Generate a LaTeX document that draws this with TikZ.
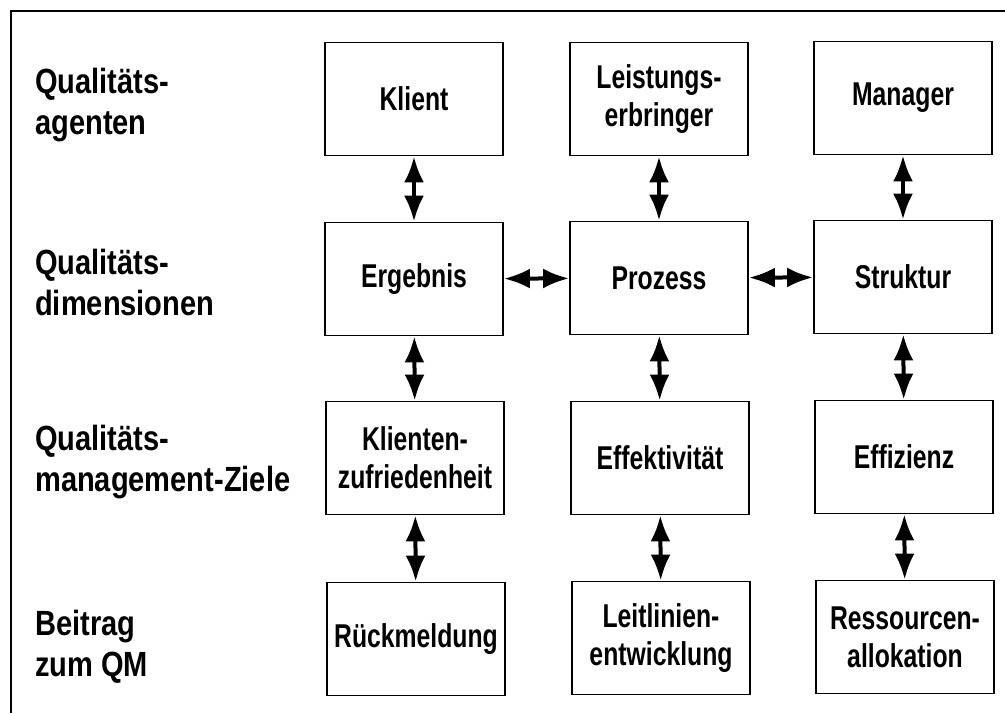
\documentclass[tikz,border=0pt]{standalone}
\usepackage{fontspec}
\usetikzlibrary{arrows.meta}
\setmainfont{Liberation Sans}
% condensed bold faces for the row labels and the box texts
\newfontfamily\rowfont{Liberation Sans}[FakeStretch=0.83]
\newfontfamily\boxfont{Liberation Sans}[FakeStretch=0.75]

\tikzset{
  qbox/.style={draw, line width=1.8pt, minimum width=178pt, minimum height=113pt,
    inner sep=0pt, align=center, font=\boxfont\bfseries\fontsize{33}{38}\selectfont},
  rowlabel/.style={anchor=base west, align=left, inner sep=0pt,
    font=\rowfont\bfseries\fontsize{35}{41}\selectfont},
  dbl/.style={line width=4pt,
    {Latex[length=26pt,width=20pt]}-{Latex[length=26pt,width=20pt]}},
  frame/.style={line width=2pt}
}

\begin{document}
\begin{tikzpicture}[x=1pt,y=-1pt]
\useasboundingbox (0,0) rectangle (1005,713);

% outer frame (top and left edges)
\coordinate (fbl) at (11,713);
\coordinate (ftl) at (11,11);
\coordinate (ftr) at (1005,11);
\draw[frame] (fbl) -- (ftl) -- (ftr);

% row labels (anchored on the baseline of their last line)
\node[rowlabel] (l1) at (35,134) {Qualitäts-\\agenten};
\node[rowlabel] (l2) at (35,315) {Qualitäts-\\dimensionen};
\node[rowlabel] (l3) at (35,491) {Qualitäts-\\management-Ziele};
\node[rowlabel] (l4) at (35,676) {Beitrag\\zum QM};

% boxes
\node[qbox] (klient)  at (414,99)  {Klient};
\node[qbox] (leist)   at (659,99)  {Leistungs-\\erbringer};
\node[qbox] (manager) at (903,98)  {Manager};

\node[qbox] (ergeb)   at (414,279) {Ergebnis};
\node[qbox] (prozess) at (659,278) {Prozess};
\node[qbox] (strukt)  at (903,277) {Struktur};

\node[qbox] (kzuf)    at (415,458) {Klienten-\\zufriedenheit};
\node[qbox] (effekt)  at (660,458) {Effektivität};
\node[qbox] (effiz)   at (904,457) {Effizienz};

\node[qbox] (rueck)   at (416,639) {Rückmeldung};
\node[qbox] (leitl)   at (661,638) {Leitlinien-\\entwicklung};
\node[qbox] (ress)    at (905,637) {Ressourcen-\\allokation};

% connectors
\draw[dbl] (klient) -- (ergeb);
\draw[dbl] (leist) -- (prozess);
\draw[dbl] (manager) -- (strukt);
\draw[dbl] (ergeb) -- (prozess);
\draw[dbl] (prozess) -- (strukt);
\draw[dbl] (ergeb) -- (kzuf);
\draw[dbl] (prozess) -- (effekt);
\draw[dbl] (strukt) -- (effiz);
\draw[dbl] (kzuf) -- (rueck);
\draw[dbl] (effekt) -- (leitl);
\draw[dbl] (effiz) -- (ress);
\end{tikzpicture}
\end{document}
